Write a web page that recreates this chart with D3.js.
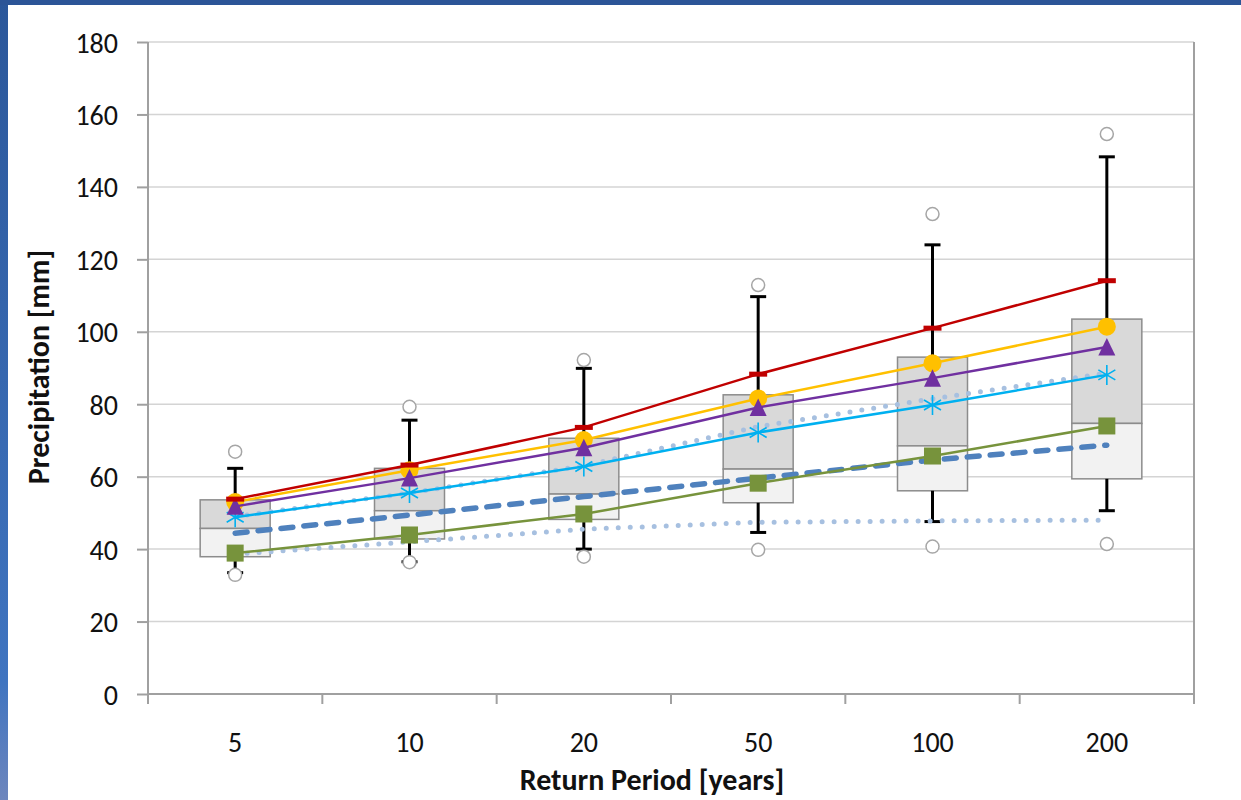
<!DOCTYPE html>
<html><head><meta charset="utf-8">
<script src="https://cdn.jsdelivr.net/npm/d3@7/dist/d3.min.js"></script>
<style>
html,body{margin:0;padding:0;background:#fff;}
svg{display:block;}
text{font-family:Carlito,Calibri,Lato,sans-serif;}
</style></head>
<body>
<svg id="chart" width="1241" height="800"></svg>
<script>
const categories = ["5","10","20","50","100","200"];
const yTicks = [0,20,40,60,80,100,120,140,160,180];
const boxQ1 = [37.9, 42.8, 48.2, 52.8, 56.1, 59.4];
const boxMedian = [45.7, 50.6, 55.2, 62.1, 68.5, 74.7];
const boxQ3 = [53.6, 62.3, 70.6, 82.6, 93.0, 103.5];
const whiskerLow = [33.5, 36.5, 40.0, 44.6, 47.6, 50.6];
const whiskerHigh = [62.3, 75.6, 89.9, 109.7, 124.0, 148.3];
const outlierLow = [32.9, 36.4, 37.9, 39.8, 40.7, 41.4];
const outlierHigh = [66.9, 79.3, 92.2, 112.9, 132.5, 154.6];
const seriesRed = [53.8, 63.2, 73.6, 88.3, 101.0, 114.1];
const seriesOrange = [53.0, 61.8, 70.1, 81.6, 91.3, 101.4];
const seriesPurple = [51.8, 59.6, 68.0, 79.1, 87.2, 95.8];
const seriesCyan = [48.8, 55.5, 62.8, 72.2, 79.8, 88.1];
const seriesGreen = [38.9, 43.9, 49.7, 58.2, 65.7, 74.0];
const seriesDashed = [44.4, 49.4, 54.5, 59.6, 64.6, 68.7];
const seriesDottedLow = [38.6, 42.0, 45.5, 47.4, 47.8, 48.0];
const seriesDottedHigh = [49.0, 55.5, 63.0, 73.8, 81.5, 88.6];

const svg = d3.select("#chart");
const L = 148, R = 1194, T = 42, B = 694;

// frame decoration
const defs = svg.append("defs");
const lg = defs.append("linearGradient").attr("id","lg").attr("x1",0).attr("y1",0).attr("x2",0).attr("y2",1);
lg.append("stop").attr("offset","0%").attr("stop-color","#2b579a");
lg.append("stop").attr("offset","85%").attr("stop-color","#3f74c0");
lg.append("stop").attr("offset","100%").attr("stop-color","#6e86bd");
svg.append("rect").attr("x",0).attr("y",0).attr("width",8).attr("height",800).attr("fill","url(#lg)");
svg.append("rect").attr("x",0).attr("y",0).attr("width",1241).attr("height",5).attr("fill","#2c5597");

const x = d3.scaleBand().domain(categories).range([L, R]).padding(0);
const y = d3.scaleLinear().domain([0,180]).range([B, T]);
const cx = c => x(c) + x.bandwidth()/2;

// gridlines
svg.append("g").selectAll("line").data(yTicks.filter(d=>d>0)).join("line")
  .attr("x1", L).attr("x2", R).attr("y1", d=>y(d)).attr("y2", d=>y(d))
  .attr("stroke","#d4d4d4").attr("stroke-width",1.5);

// axes
const yAxis = svg.append("g").attr("transform",`translate(${L},0)`)
  .call(d3.axisLeft(y).tickValues(yTicks).tickSize(11).tickPadding(19));
yAxis.select(".domain").attr("stroke","#a0a0a0").attr("stroke-width",2).attr("d",`M0,${T}V${B+10}`);
yAxis.selectAll(".tick line").attr("stroke","#a0a0a0").attr("stroke-width",2);
yAxis.selectAll(".tick text").attr("font-size",28).attr("fill","#111").attr("dy","0.36em");

const xAxis = svg.append("g").attr("transform",`translate(0,${B})`)
  .call(d3.axisBottom(x).tickSize(0).tickPadding(38));
xAxis.select(".domain").attr("stroke","#a0a0a0").attr("stroke-width",2).attr("d",`M${L},0H${R}`);
xAxis.selectAll(".tick text").attr("font-size",28).attr("fill","#111");
// boundary ticks
const bounds = categories.map(c=>x(c)).concat([R]);
svg.append("g").selectAll("line").data(bounds).join("line")
  .attr("x1",d=>d).attr("x2",d=>d).attr("y1",B).attr("y2",B+10)
  .attr("stroke","#a0a0a0").attr("stroke-width",2);
// right border
svg.append("line").attr("x1",R).attr("x2",R).attr("y1",T).attr("y2",B)
  .attr("stroke","#a0a0a0").attr("stroke-width",2);

// titles
svg.append("text").attr("x",652).attr("y",790).attr("text-anchor","middle")
  .attr("font-size",30).attr("font-weight","bold").attr("fill","#111").text("Return Period [years]");
svg.append("text").attr("transform","translate(49,367) rotate(-90)").attr("text-anchor","middle")
  .attr("font-size",30).attr("font-weight","bold").attr("fill","#111").text("Precipitation [mm]");

// boxes
const bw = 70;
const gBox = svg.append("g");
categories.forEach((c,i)=>{
  gBox.append("rect").attr("x",cx(c)-bw/2).attr("width",bw)
    .attr("y",y(boxQ3[i])).attr("height",y(boxMedian[i])-y(boxQ3[i]))
    .attr("fill","#d9d9d9").attr("stroke","#8c8c8c").attr("stroke-width",1.5);
  gBox.append("rect").attr("x",cx(c)-bw/2).attr("width",bw)
    .attr("y",y(boxMedian[i])).attr("height",y(boxQ1[i])-y(boxMedian[i]))
    .attr("fill","#f2f2f2").attr("stroke","#8c8c8c").attr("stroke-width",1.5);
});
// whiskers
const gW = svg.append("g").attr("stroke","#000").attr("stroke-width",3);
categories.forEach((c,i)=>{
  const X = cx(c);
  gW.append("line").attr("x1",X).attr("x2",X).attr("y1",y(boxQ3[i])).attr("y2",y(whiskerHigh[i]));
  gW.append("line").attr("x1",X-8).attr("x2",X+8).attr("y1",y(whiskerHigh[i])).attr("y2",y(whiskerHigh[i]));
  gW.append("line").attr("x1",X).attr("x2",X).attr("y1",y(boxQ1[i])).attr("y2",y(whiskerLow[i]));
  gW.append("line").attr("x1",X-8).attr("x2",X+8).attr("y1",y(whiskerLow[i])).attr("y2",y(whiskerLow[i]));
});
// outliers
const gO = svg.append("g");
categories.forEach((c,i)=>{
  [outlierLow[i], outlierHigh[i]].forEach(v=>{
    gO.append("circle").attr("cx",cx(c)).attr("cy",y(v)).attr("r",6.5)
      .attr("fill","#fff").attr("stroke","#a6a6a6").attr("stroke-width",1.5);
  });
});

const line = d3.line().x((d,i)=>cx(categories[i])).y(d=>y(d));
function drawLine(data, color, width, dash, cap){
  svg.append("path").attr("d", line(data)).attr("fill","none")
    .attr("stroke",color).attr("stroke-width",width)
    .attr("stroke-dasharray", dash || null).attr("stroke-linecap", cap || "butt");
}
drawLine(seriesDottedLow, "#a7c0e0", 5, "0 12", "round");
drawLine(seriesDottedHigh, "#a7c0e0", 5, "0 12", "round");
drawLine(seriesDashed, "#4f81bd", 5.5, "12 11", "round");

// green
drawLine(seriesGreen, "#77933c", 2.5);
svg.append("g").selectAll("rect").data(seriesGreen).join("rect")
  .attr("x",(d,i)=>cx(categories[i])-8.5).attr("y",d=>y(d)-8.5).attr("width",17).attr("height",17)
  .attr("fill","#77933c");
// cyan
drawLine(seriesCyan, "#00b0f0", 2.5);
svg.append("g").selectAll("path").data(seriesCyan).join("path")
  .attr("transform",(d,i)=>`translate(${cx(categories[i])},${y(d)})`)
  .attr("d","M0,-10V10M-8.5,-5L8.5,5M-8.5,5L8.5,-5")
  .attr("stroke","#00b0f0").attr("stroke-width",1.6).attr("fill","none");
// orange
drawLine(seriesOrange, "#ffc000", 2.5);
svg.append("g").selectAll("circle").data(seriesOrange).join("circle")
  .attr("cx",(d,i)=>cx(categories[i])).attr("cy",d=>y(d)).attr("r",9).attr("fill","#ffc000");
// purple
drawLine(seriesPurple, "#7030a0", 2.5);
svg.append("g").selectAll("path").data(seriesPurple).join("path")
  .attr("transform",(d,i)=>`translate(${cx(categories[i])},${y(d)})`)
  .attr("d","M0,-9L8.5,8.5L-8.5,8.5Z").attr("fill","#7030a0");
// red
drawLine(seriesRed, "#c00000", 2.5);
svg.append("g").selectAll("rect").data(seriesRed).join("rect")
  .attr("x",(d,i)=>cx(categories[i])-9).attr("y",d=>y(d)-2.5).attr("width",18).attr("height",5)
  .attr("fill","#c00000");
</script>
</body></html>
